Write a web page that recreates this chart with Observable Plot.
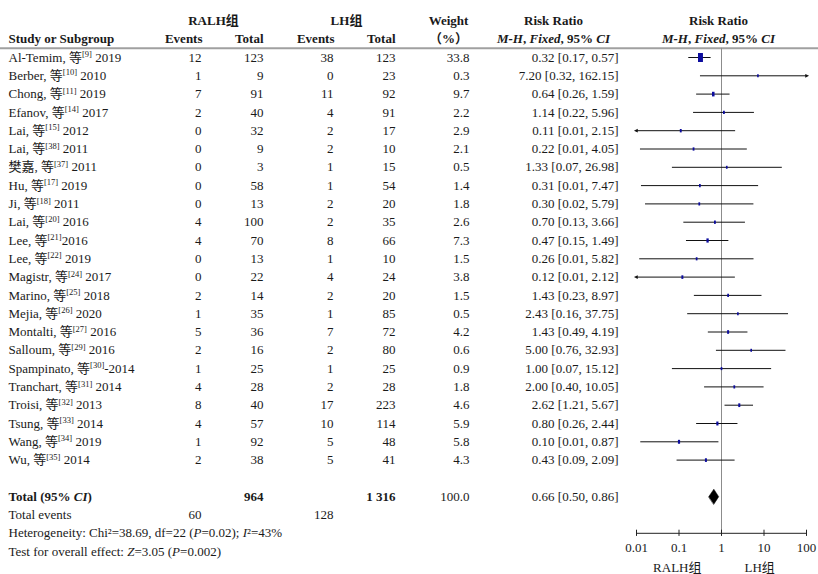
<!DOCTYPE html>
<html><head><meta charset="utf-8">
<script src="https://cdn.jsdelivr.net/npm/d3@7"></script>
<script src="https://cdn.jsdelivr.net/npm/@observablehq/plot@0.6"></script>
<style>
body{margin:0;background:#fff;}
#chart{position:relative;width:818px;height:574px;}
#chart svg{position:absolute;left:0;top:0;}
</style></head><body><div id="chart"></div>
<script>
// ---- data ----
const studies = [
  "Al-Temim, 等{[9]} 2019", "Berber, 等{[10]} 2010", "Chong, 等{[11]} 2019", "Efanov, 等{[14]} 2017",
  "Lai, 等{[15]} 2012", "Lai, 等{[38]} 2011", "樊嘉, 等{[37]} 2011", "Hu, 等{[17]} 2019",
  "Ji, 等{[18]} 2011", "Lai, 等{[20]} 2016", "Lee, 等{[21]}2016", "Lee, 等{[22]} 2019",
  "Magistr, 等{[24]} 2017", "Marino, 等{[25]} 2018", "Mejia, 等{[26]} 2020", "Montalti, 等{[27]} 2016",
  "Salloum, 等{[29]} 2016", "Spampinato, 等{[30]}-2014", "Tranchart, 等{[31]} 2014", "Troisi, 等{[32]} 2013",
  "Tsung, 等{[33]} 2014", "Wang, 等{[34]} 2019", "Wu, 等{[35]} 2014"
];
const eventsRALH = [12, 1, 7, 2, 0, 0, 0, 0, 0, 4, 4, 0, 0, 2, 1, 5, 2, 1, 4, 8, 4, 1, 2];
const totalRALH  = [123, 9, 91, 40, 32, 9, 3, 58, 13, 100, 70, 13, 22, 14, 35, 36, 16, 25, 28, 40, 57, 92, 38];
const eventsLH   = [38, 0, 11, 4, 2, 2, 1, 1, 2, 2, 8, 1, 4, 2, 1, 7, 2, 1, 2, 17, 10, 5, 5];
const totalLH    = [123, 23, 92, 91, 17, 10, 15, 54, 20, 35, 66, 10, 24, 20, 85, 72, 80, 25, 28, 223, 114, 48, 41];
const weights    = [33.8, 0.3, 9.7, 2.2, 2.9, 2.1, 0.5, 1.4, 1.8, 2.6, 7.3, 1.5, 3.8, 1.5, 0.5, 4.2, 0.6, 0.9, 1.8, 4.6, 5.9, 5.8, 4.3];
const riskRatio  = [0.32, 7.20, 0.64, 1.14, 0.11, 0.22, 1.33, 0.31, 0.30, 0.70, 0.47, 0.26, 0.12, 1.43, 2.43, 1.43, 5.00, 1.00, 2.00, 2.62, 0.80, 0.10, 0.43];
const ciLow      = [0.17, 0.32, 0.26, 0.22, 0.0056, 0.0124, 0.07, 0.0131, 0.0163, 0.13, 0.15, 0.0119, 0.0062, 0.23, 0.16, 0.49, 0.76, 0.07, 0.40, 1.21, 0.26, 0.0126, 0.09];
const ciHigh     = [0.57, 162.15, 1.59, 5.96, 2.15, 4.05, 26.98, 7.47, 5.79, 3.66, 1.49, 5.82, 2.12, 8.97, 37.75, 4.19, 32.93, 15.12, 10.05, 5.67, 2.44, 0.87, 2.09];
const pooled     = [0.66, 0.50, 0.86];   // RR, low, high
const footerLines = [
  "Heterogeneity: Chi²=38.69, df=22 (_P_=0.02); _I_²=43%",
  "Test for overall effect: _Z_=3.05 (_P_=0.002)"
];
const axisTicks = [0.01, 0.1, 1, 10, 100];
const axisTickLabels = ["0.01", "0.1", "1", "10", "100"];
const groupLabels = ["RALH组", "LH组"];

// ---- helpers ----
const ink = "#1a1a1a";
const FONT = '"Liberation Serif", "Noto Sans CJK SC", serif';
const fmtInt = n => String(n).replace(/\B(?=(\d{3})+$)/g, " ");
const fmtCI = (r, l, h) => `${r.toFixed(2)} [${l.toFixed(2)}, ${h.toFixed(2)}]`;

const rows = studies.map((s, i) => ({
  i, study: s, ev1: eventsRALH[i], tot1: totalRALH[i], ev2: eventsLH[i], tot2: totalLH[i],
  w: weights[i], rr: riskRatio[i], lo: ciLow[i], hi: ciHigh[i]
}));
const iTotal = 24, iEvents = 25, iFoot = 26;

const W = 818, H = 574, MT = 20.4, MB = 41.2;
const yScale = {domain: [-2, 26], reverse: true, axis: null};

// ---- table ----
const cols = [
  {x: 8,   anchor: "start", get: d => d.study},
  {x: 201, anchor: "end",   get: d => String(d.ev1)},
  {x: 263, anchor: "end",   get: d => String(d.tot1)},
  {x: 333, anchor: "end",   get: d => String(d.ev2)},
  {x: 395, anchor: "end",   get: d => String(d.tot2)},
  {x: 469, anchor: "end",   get: d => d.w.toFixed(1)},
  {x: 618, anchor: "end",   get: d => fmtCI(d.rr, d.lo, d.hi)}
];
const headers = [
  {y: -2, x: 213, a: "middle", t: "RALH组"},
  {y: -2, x: 346, a: "middle", t: "LH组"},
  {y: -2, x: 448, a: "middle", t: "Weight"},
  {y: -2, x: 553, a: "middle", t: "Risk Ratio"},
  {y: -2, x: 718, a: "middle", t: "Risk Ratio"},
  {y: -1, x: 8,   a: "start",  t: "Study or Subgroup"},
  {y: -1, x: 202, a: "end",    t: "Events"},
  {y: -1, x: 263, a: "end",    t: "Total"},
  {y: -1, x: 334, a: "end",    t: "Events"},
  {y: -1, x: 395, a: "end",    t: "Total"},
  {y: -1, x: 448, a: "middle", t: "（%）"},
  {y: -1, x: 553, a: "middle", t: "_M-H_, _Fixed_, 95% _CI_"},
  {y: -1, x: 718, a: "middle", t: "_M-H_, _Fixed_, 95% _CI_"},
  {y: iTotal, x: 8,   a: "start", t: "Total (95% _CI_)"},
  {y: iTotal, x: 263, a: "end",   t: fmtInt(d3.sum(totalRALH))},
  {y: iTotal, x: 395, a: "end",   t: fmtInt(d3.sum(totalLH))}
];
const plainCells = [
  {y: iTotal,  x: 469, a: "end",   t: d3.sum(weights).toFixed(1)},
  {y: iTotal,  x: 618, a: "end",   t: fmtCI(...pooled)},
  {y: iEvents, x: 8,   a: "start", t: "Total events"},
  {y: iEvents, x: 201, a: "end",   t: String(d3.sum(eventsRALH))},
  {y: iEvents, x: 333, a: "end",   t: String(d3.sum(eventsLH))},
  ...footerLines.map((t, k) => ({y: iFoot + k, x: 8, a: "start", t}))
];
const anchors = ["start", "middle", "end"];
const cellMarks = (cells, bold) => anchors.map(a =>
  Plot.text(cells.filter(c => c.a === a), {x: "x", y: "y", text: "t", textAnchor: a,
    fontWeight: bold ? "bold" : "normal", fill: ink, fontSize: 13}));

const table = Plot.plot({
  width: W, height: H, marginTop: MT, marginBottom: MB, marginLeft: 0, marginRight: 0,
  style: {fontFamily: FONT, fontSize: "13px", background: "white"},
  x: {type: "identity", axis: null},
  y: yScale,
  marks: [
    Plot.ruleY([-0.5], {x1: 0, x2: W, stroke: "#a0a0a0", strokeWidth: 2}),
    ...cols.map(c => Plot.text(rows, {x: c.x, y: "i", text: c.get, textAnchor: c.anchor, fill: ink, fontSize: 13})),
    ...cellMarks(headers, true),
    ...cellMarks(plainCells, false)
  ]
});

// ---- forest ----
const rectSymbol = {draw(ctx, size) { const h = Math.sqrt(size / 0.55), w = 0.55 * h;
  ctx.moveTo(-w/2, -h/2); ctx.lineTo(w/2, -h/2); ctx.lineTo(w/2, h/2); ctx.lineTo(-w/2, h/2); ctx.closePath(); }};
const leftTri = {draw(ctx, size) { const s = Math.sqrt(size);
  ctx.moveTo(-s*0.8, 0); ctx.lineTo(s*0.4, -s*0.6); ctx.lineTo(s*0.4, s*0.6); ctx.closePath(); }};
const rightTri = {draw(ctx, size) { const s = Math.sqrt(size);
  ctx.moveTo(s*0.8, 0); ctx.lineTo(-s*0.4, -s*0.6); ctx.lineTo(-s*0.4, s*0.6); ctx.closePath(); }};
const [xMin, xMax] = [axisTicks[0], axisTicks[axisTicks.length - 1]];
const diamond = [
  {x: pooled[1], y: iTotal}, {x: pooled[0], y: iTotal - 0.41},
  {x: pooled[2], y: iTotal}, {x: pooled[0], y: iTotal + 0.41}
];

const forest = Plot.plot({
  width: W, height: H, marginTop: MT, marginBottom: MB, marginLeft: 636, marginRight: 12,
  style: {fontFamily: FONT, fontSize: "13px", background: "transparent", overflow: "visible"},
  x: {type: "log", domain: [xMin, xMax]},
  y: yScale,
  r: {type: "linear", domain: [0, d3.max(weights)], range: [1.2, 3.78]},
  marks: [
    Plot.ruleX([1], {y1: -0.5, y2: 26, stroke: "#8c8c8c"}),
    Plot.ruleY(rows, {y: "i", x1: d => Math.max(d.lo, xMin), x2: d => Math.min(d.hi, xMax), stroke: "#111"}),
    Plot.dot(rows.filter(d => d.lo < xMin), {x: xMin, y: "i", symbol: leftTri, r: 1.8, fill: "#111", stroke: null}),
    Plot.dot(rows.filter(d => d.hi > xMax), {x: xMax, y: "i", symbol: rightTri, r: 1.8, fill: "#111", stroke: null}),
    Plot.dot(rows, {x: "rr", y: "i", r: "w", symbol: rectSymbol, fill: "#0c0c9e", stroke: null}),
    Plot.line(diamond, {x: "x", y: "y", curve: "linear-closed", fill: "black", stroke: "black", strokeWidth: 0.5}),
    Plot.ruleY([26], {x1: xMin, x2: xMax, stroke: "#222"}),
    Plot.ruleX(axisTicks, {y1: 25.83, y2: 26.17, stroke: "#222"}),
    Plot.axisX({ticks: axisTicks, tickFormat: d => axisTickLabels[axisTicks.indexOf(d)], tickSize: 0, tickPadding: 9.5, fontSize: 13, fill: ink, label: null}),
    Plot.text([groupLabels[0]], {x: 1, y: 27.87, text: d => d, textAnchor: "end", dx: -20, fill: ink, fontSize: 13}),
    Plot.text([groupLabels[1]], {x: 1, y: 27.87, text: d => d, textAnchor: "start", dx: 23, fill: ink, fontSize: 13})
  ]
});

// ---- rich text: _italic_ and {superscript} ----
function richText(svg) {
  d3.select(svg).selectAll("text").each(function() {
    const t = this.textContent;
    if (!/[_{]/.test(t)) return;
    const el = d3.select(this);
    el.text(null);
    let italic = false, sup = false, buf = "", down = false;
    const flush = () => {
      if (!buf) return;
      const ts = el.append("tspan").text(buf);
      if (italic) ts.attr("font-style", "italic");
      if (sup) ts.attr("font-size", 8.5).attr("dy", -4.5);
      else if (down) { ts.attr("dy", 4.5); down = false; }
      buf = "";
    };
    for (const ch of t) {
      if (ch === "_") { flush(); italic = !italic; }
      else if (ch === "{") { flush(); sup = true; }
      else if (ch === "}") { flush(); sup = false; down = true; }
      else buf += ch;
    }
    flush();
  });
}
richText(table); richText(forest);
const chart = document.getElementById("chart");
chart.appendChild(table);
chart.appendChild(forest);
</script></body></html>
